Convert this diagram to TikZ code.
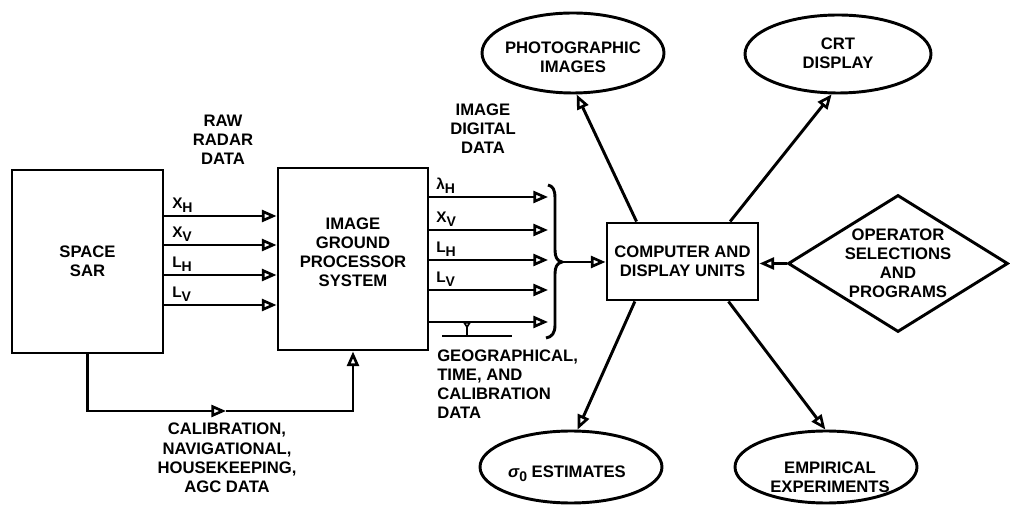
\documentclass[tikz,border=0pt]{standalone}
\usepackage{fontspec}
\setmainfont{Liberation Sans}
\usetikzlibrary{arrows.meta,shapes.geometric}
\newcommand{\lsub}[1]{\raisebox{-0.5ex}{\fontsize{10.5}{11}\selectfont #1}}

\begin{document}
\begin{tikzpicture}[x=0.75pt,y=-0.75pt,
  every node/.style={font=\bfseries\fontsize{12.5}{14.2}\selectfont, align=center},
  ln/.style={line width=2.2pt},
  tip/.tip={Triangle[open,length=11pt,width=9pt,line width=2pt]},
  arr/.style={ln,-tip},
  box/.style={draw,ln,rectangle,inner sep=1pt},
  oval/.style={draw,ln,ellipse,inner sep=0pt},
  txt/.style={inner sep=0pt},
  sig/.style={font=\bfseries\fontsize{11.5}{12}\selectfont,inner sep=0pt,anchor=south west}]

\useasboundingbox (0,0) rectangle (1010,505);

% blocks
\node[box,minimum width=113.25pt,minimum height=137.25pt] (sar) at (87.5,261.5) {SPACE\\SAR};
\node[box,minimum width=112.5pt,minimum height=136.5pt] (igps) at (353,259) {};
\node[txt] (igpst) at ([yshift=5pt]igps.center) {IMAGE\\GROUND\\PROCESSOR\\SYSTEM};
\node[box,minimum width=113.25pt,minimum height=57.75pt] (comp) at (682.5,261.5) {COMPUTER AND\\DISPLAY UNITS};
\node[draw,ln,diamond,aspect=1.6,inner sep=0pt,minimum width=165pt,minimum height=102.75pt] (op) at (898,263.5) {OPERATOR\\SELECTIONS\\AND\\PROGRAMS};

% outputs
\node[oval,minimum width=136.5pt,minimum height=60pt] (photo) at (573,53) {};
\node[txt] (photot) at ([yshift=-3.5pt]photo.center) {PHOTOGRAPHIC\\IMAGES};
\node[oval,minimum width=139.5pt,minimum height=58.5pt] (crt) at (838,54) {};
\node[txt] (crtt) at ([yshift=0.5pt]crt.center) {CRT\\DISPLAY};
\node[oval,minimum width=136.5pt,minimum height=54pt] (sigma) at (571,467) {};
\node[txt] (sigmat) at ([xshift=-3pt,yshift=-5pt]sigma.center) {{\itshape σ}\lsub{0} ESTIMATES};
\node[oval,minimum width=136.5pt,minimum height=54pt] (emp) at (826,467) {};
\node[txt] (empt) at ([xshift=3pt,yshift=-8pt]emp.center) {EMPIRICAL\\EXPERIMENTS};

% free-standing captions
\node[txt] (raw) at (223,140) {RAW\\RADAR\\DATA};
\node[txt] (idd) at (483,129) {IMAGE\\DIGITAL\\DATA};
\node[txt,anchor=west,align=left,font=\bfseries\fontsize{12.5}{14.4}\selectfont] (geo) at (437,384) {GEOGRAPHICAL,\\TIME, AND\\CALIBRATION\\DATA};
\node[txt,font=\bfseries\fontsize{12.5}{14.4}\selectfont] (cal) at (227,458) {CALIBRATION,\\NAVIGATIONAL,\\HOUSEKEEPING,\\AGC DATA};

% raw radar channels
\foreach \y/\lab in {216/X\lsub{H},245/X\lsub{V},275/L\lsub{H},305/L\lsub{V}}{
  \draw[arr] (sar.east |- 0,\y) -- (igps.west |- 0,\y);
  \node[sig] at (172,\y-3) {\lab};
}

% image digital data channels into the brace
\coordinate (bc) at (548,262);
\foreach \y/\lab in {197/λ\lsub{H},230/X\lsub{V},260/L\lsub{H},290/L\lsub{V}}{
  \draw[arr] (igps.east |- 0,\y) -- (bc |- 0,\y);
  \node[sig] at (436,\y-3) {\lab};
}
\draw[arr] (igps.east |- 0,322) -- (bc |- 0,322);

% geographical / time tap on the fifth channel
\coordinate (g1) at (442,336);
\coordinate (g2) at (512,336);
\coordinate (gm) at (467,336);
\draw[ln] (g1) -- (g2);
\draw[ln,-{Triangle[open,reversed,length=5pt,width=6pt,line width=1.3pt]}] (gm) -- (gm |- 0,322);

% brace gathering the channels
\coordinate (btip) at (562,262);
\draw[ln] (548,185) .. controls (553,186) and (555,190) .. (555,198) -- (555,250)
  .. controls (555,257) and (557,261) .. (btip)
  .. controls (557,263) and (555,267) .. (555,274) -- (555,325)
  .. controls (555,333) and (552,337) .. (546,338);
\draw[arr] (btip) -- (comp.west |- btip);

% operator input
\draw[arr] (op.west) -- (comp.east |- op.west);

% calibration feed from the SAR to the processor
\coordinate (cmid) at (226,411);
\draw[arr] (sar.south) |- (cmid);
\draw[arr] (cmid) -| (igps.south);

% products of the computer
\draw[arr] (comp.139.8) -- (photo.275.4);
\draw[arr] (comp.40.2) -- (crt.261.7);
\draw[arr] (comp.220.2) -- (sigma.80.8);
\draw[arr] (comp.319.8) -- (emp.91.5);

\end{tikzpicture}
\end{document}
